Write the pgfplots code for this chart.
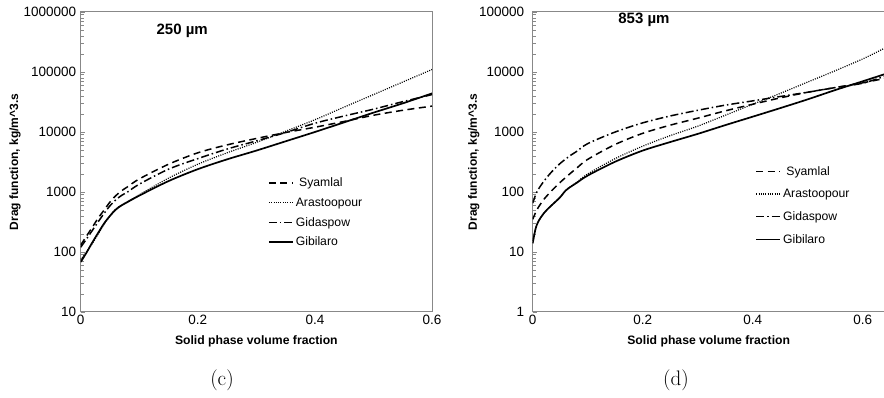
\documentclass[border=0pt]{standalone}
\usepackage{fontspec}
\usepackage{pgfplots}
\usepackage{pgfplotstable}
\pgfplotsset{compat=1.18}
\newfontfamily\arial{Liberation Sans}
\newcommand\tk[1]{\mbox{\arial\fontsize{13.5bp}{15bp}\selectfont #1}}
\definecolor{axgray}{RGB}{136,136,136}

\pgfplotstableread{
x     Sy     Ar      Gd     Gb
0     130    75      120    68
0.01  185    100     165    98
0.02  260    140     230    145
0.03  370    200     320    210
0.04  500    290     440    300
0.05  680    400     590    400
0.06  870    520     740    510
0.07  1050   610     880    600
0.08  1220   690     1000   680
0.1   1650   900     1350   870
0.15  2900   1700    2400   1520
0.2   4500   2900    3600   2400
0.25  6100   4500    5200   3500
0.3   7800   6700    7100   4900
0.35  9800   10300   9800   7000
0.4   12000  16000   14000  10000
0.45  15000  26000   18500  14500
0.5   19000  42000   24000  21000
0.55  23000  68000   32000  30000
0.6   27000  110000  42000  44000
}\leftdata

\pgfplotstableread{
x     Sy    Ar     Gd    Gb
0     35    14     65    14
0.005 45    24     88    24
0.01  55    32     110   32
0.02  75    44     150   44
0.03  95    55     195   55
0.04  118   67     245   67
0.05  145   82     300   82
0.06  175   106    355   106
0.07  210   125    415   124
0.08  250   145    475   142
0.1   350   200    640   188
0.15  620   360    1000  320
0.2   950   580    1420  490
0.25  1300  870    1850  680
0.3   1700  1250   2300  930
0.35  2250  1900   2800  1300
0.4   2900  2900   3300  1800
0.45  3700  4400   3900  2500
0.5   4600  6800   4600  3500
0.55  5500  10500  5500  5000
0.6   6600  16500  6500  7000
0.64  7800  25000  8500  9200
}\rightdata

\tikzset{
  lsy/.style={black, line width=1.5bp, dash pattern=on 7bp off 4.5bp},
  lar/.style={black, line width=1.2bp, dash pattern=on 1bp off 1.3bp},
  lgd/.style={black, line width=1.5bp, dash pattern=on 8bp off 3bp on 1.5bp off 3bp},
  lgb/.style={black, line width=1.7bp},
}
\pgfplotsset{
  legend image code/.code={\draw[#1] (0bp,0bp) -- (24bp,0bp);},
}

\begin{document}
\begin{tikzpicture}
\useasboundingbox (0,0) rectangle (884bp,398bp);

\begin{axis}[
  scale only axis,
  at={(80.7bp,86bp)}, anchor=south west,
  width=351.3bp, height=300bp,
  ymode=log,
  xmin=0, xmax=0.6, ymin=10, ymax=1000000,
  axis line style={axgray, line width=1bp},
  tick style={axgray, line width=0.6bp},
  major tick length=4bp, minor tick length=3bp,
  ytick pos=left, xtick pos=bottom, tick align=inside,
  xtick style={draw=none},
  yticklabel style={xshift=-1bp},
  xtick={0,0.2,0.4,0.6},
  xticklabels={\tk{0},\tk{0.2},\tk{0.4},\tk{0.6}},
  ytick={10,100,1000,10000,100000,1000000},
  yticklabels={\tk{10},\tk{100},\tk{1000},\tk{10000},\tk{100000},\tk{1000000}},
  xlabel={Solid phase volume fraction},
  ylabel={Drag function, kg/m\^{}3.s},
  xlabel style={font=\arial\bfseries\fontsize{12.2bp}{14bp}\selectfont, at={(axis description cs:0.5,-0.097)}, anchor=center},
  ylabel style={font=\arial\bfseries\fontsize{12bp}{14bp}\selectfont, at={(axis description cs:-0.187,0.5)}, anchor=center},
  legend cell align=left,
  legend style={draw=none, fill=none, anchor=north west, at={(axis description cs:0.533,0.454)},
      font=\arial\fontsize{12.2bp}{14bp}\selectfont, inner sep=0pt, row sep=5.5bp},
]
\addplot[lsy, smooth] table[x=x,y=Sy] {\leftdata};
\addplot[lar, smooth] table[x=x,y=Ar] {\leftdata};
\addplot[lgd, smooth] table[x=x,y=Gd] {\leftdata};
\addplot[lgb, smooth] table[x=x,y=Gb] {\leftdata};
\legend{\ Syamlal, Arastoopour, Gidaspow, Gibilaro}
\node[font=\arial\bfseries\fontsize{15bp}{17bp}\selectfont] at (axis description cs:0.289,0.937) {250 µm};
\end{axis}

\begin{axis}[
  scale only axis,
  at={(532.7bp,86bp)}, anchor=south west,
  width=352bp, height=300bp,
  ymode=log,
  xmin=0, xmax=0.64, ymin=1, ymax=100000,
  axis line style={axgray, line width=1bp},
  tick style={axgray, line width=0.6bp},
  major tick length=4bp, minor tick length=3bp,
  ytick pos=left, xtick pos=bottom, tick align=inside,
  xtick style={draw=none},
  yticklabel style={xshift=-5bp},
  xtick={0,0.2,0.4,0.6},
  xticklabels={\tk{0},\tk{0.2},\tk{0.4},\tk{0.6}},
  ytick={1,10,100,1000,10000,100000},
  yticklabels={\tk{1},\tk{10},\tk{100},\tk{1000},\tk{10000},\tk{100000}},
  xlabel={Solid phase volume fraction},
  ylabel={Drag function, kg/m\^{}3.s},
  xlabel style={font=\arial\bfseries\fontsize{12.2bp}{14bp}\selectfont, at={(axis description cs:0.5,-0.097)}, anchor=center},
  ylabel style={font=\arial\bfseries\fontsize{12bp}{14bp}\selectfont, at={(axis description cs:-0.167,0.5)}, anchor=center},
  legend cell align=left,
  legend style={draw=none, fill=none, anchor=north west, at={(axis description cs:0.632,0.493)},
      font=\arial\fontsize{12.2bp}{14bp}\selectfont, inner sep=0pt, row sep=8.5bp},
]
\addplot[lsy, smooth] table[x=x,y=Sy] {\rightdata};
\addplot[lar, smooth] table[x=x,y=Ar] {\rightdata};
\addplot[lgd, smooth] table[x=x,y=Gd] {\rightdata};
\addplot[lgb, smooth] table[x=x,y=Gb] {\rightdata};
\legend{\ Syamlal, Arastoopour, Gidaspow, Gibilaro}
\node[font=\arial\bfseries\fontsize{15bp}{17bp}\selectfont] at (axis description cs:0.316,0.975) {853 µm};
\end{axis}

\node[font=\fontsize{21bp}{24bp}\selectfont] at (222bp,18bp) {(c)};
\node[font=\fontsize{21bp}{24bp}\selectfont] at (676bp,18bp) {(d)};
\end{tikzpicture}
\end{document}
